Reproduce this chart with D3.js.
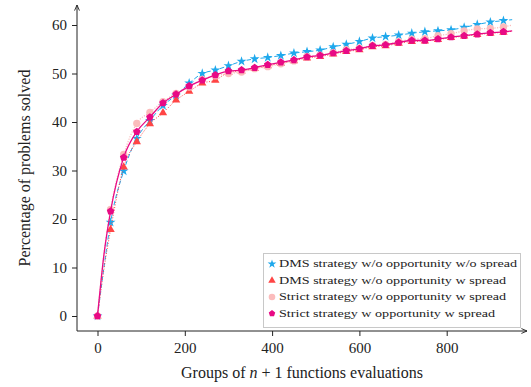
<!DOCTYPE html>
<html>
<head>
<meta charset="utf-8">
<script src="https://cdn.jsdelivr.net/npm/d3@7"></script>
<style>
  html, body { margin: 0; padding: 0; background: #fff; }
  svg { display: block; }
  text { font-family: "Liberation Serif", "DejaVu Serif", serif; fill: #222; }
</style>
</head>
<body>
<svg id="chart" width="531" height="387"></svg>
<script>
// Groups of n+1 function evaluations at which the solved percentage is sampled
const groups = [0, 15, 30, 60, 90, 120, 150, 180, 210, 240, 270, 300, 330, 360, 390, 420, 450,
  480, 510, 540, 570, 600, 630, 660, 690, 720, 750, 780, 810, 840, 870, 900, 930, 950];

// Percentage of problems solved, one array per strategy
const dmsNoOppNoSpread = [0, 10.2, 19.3, 29.9, 36.6, 40.3, 43.4, 45.5, 48.0, 50.0, 50.7, 51.6, 52.5,
  53.0, 53.3, 53.7, 54.2, 54.5, 54.8, 55.5, 56.0, 56.6, 57.3, 57.6, 57.9, 58.3, 58.6, 58.8,
  59.0, 59.5, 60.1, 60.6, 60.9, 61.1];
const dmsNoOppSpread = [0, 9.8, 17.8, 30.7, 35.9, 39.6, 41.9, 44.5, 46.3, 48.0, 48.6, 50.2, 50.5,
  51.0, 51.6, 52.1, 52.6, 53.2, 53.5, 54.0, 54.5, 54.9, 55.5, 55.7, 56.2, 56.6, 56.7, 57.0,
  57.4, 57.7, 58.0, 58.3, 58.5, 58.7];
const strictNoOppSpread = [0, 13.0, 22.0, 33.3, 39.7, 42.0, 44.2, 45.9, 47.2, 48.8, 49.5, 50.0, 50.3,
  51.0, 51.4, 52.0, 52.6, 53.5, 53.8, 54.3, 54.9, 55.2, 55.8, 56.0, 56.6, 57.1, 57.2, 57.8,
  58.2, 58.8, 59.2, 59.3, 59.6, 60.0];
const strictOppSpread = [0, 12.8, 21.6, 32.7, 38.0, 41.0, 43.9, 45.7, 47.4, 48.6, 49.7, 50.5, 50.7,
  51.2, 51.8, 52.3, 52.8, 53.4, 53.7, 54.2, 54.7, 55.1, 55.7, 55.9, 56.4, 56.8, 56.8, 57.1,
  57.5, 57.8, 58.1, 58.4, 58.6, 58.8];

const xTicks = [0, 200, 400, 600, 800];
const yTicks = [0, 10, 20, 30, 40, 50, 60];
const markEvery = 30;

const seriesNames = [
  "DMS strategy w/o opportunity w/o spread",
  "DMS strategy w/o opportunity w spread",
  "Strict strategy w/o opportunity w spread",
  "Strict strategy w opportunity w spread"
];

const series = [
  { name: seriesNames[0], values: dmsNoOppNoSpread, color: "#1ea8ec", dash: "4.5,2.5", width: 1, marker: "star" },
  { name: seriesNames[1], values: dmsNoOppSpread, color: "#ff4545", dash: "1,1.6", width: 1, marker: "triangle" },
  { name: seriesNames[2], values: strictNoOppSpread, color: "#fbbcbc", dash: "1.2,1.4", width: 1.2, marker: "circle" },
  { name: seriesNames[3], values: strictOppSpread, color: "#e80a85", dash: null, width: 1.3, marker: "pentagon" }
];

const svg = d3.select("#chart");

const x = d3.scaleLinear().domain([0, 800]).range([97.5, 446.7]);
const y = d3.scaleLinear().domain([0, 60]).range([316, 25]);

const axisLeftX = 77, axisBottomY = 331;
const axisRightX = 527, axisTopY = 5;

// marker shapes
function pentagonPath(r) {
  const pts = d3.range(5).map(i => {
    const a = -Math.PI / 2 + i * 2 * Math.PI / 5;
    return [r * Math.cos(a), r * Math.sin(a)];
  });
  return "M" + pts.map(p => p.join(",")).join("L") + "Z";
}
function markerPath(kind) {
  switch (kind) {
    case "star": return d3.symbol(d3.symbolStar, 30)();
    case "triangle": return d3.symbol(d3.symbolTriangle, 30)();
    case "circle": return d3.symbol(d3.symbolCircle, 42)();
    case "pentagon": return pentagonPath(4);
  }
}

// axes
const gx = svg.append("g").attr("transform", `translate(0,${axisBottomY})`);
gx.call(d3.axisBottom(x).tickValues(xTicks).tickSize(5).tickPadding(6).tickFormat(d3.format("d")));
gx.select(".domain").remove();
gx.selectAll("line").attr("stroke", "#222");
gx.selectAll("text").attr("font-size", 15).attr("fill", "#222")
  .attr("font-family", "Liberation Serif, serif");

const gy = svg.append("g").attr("transform", `translate(${axisLeftX},0)`);
gy.call(d3.axisLeft(y).tickValues(yTicks).tickSize(5).tickPadding(5).tickFormat(d3.format("d")));
gy.select(".domain").remove();
gy.selectAll("line").attr("stroke", "#222");
gy.selectAll("text").attr("font-size", 15).attr("fill", "#222")
  .attr("font-family", "Liberation Serif, serif");

// axis lines with arrow heads
const defs = svg.append("defs");
defs.append("marker")
  .attr("id", "arrow").attr("viewBox", "0 0 10 10").attr("refX", 9).attr("refY", 5)
  .attr("markerWidth", 7).attr("markerHeight", 7).attr("orient", "auto")
  .append("path").attr("d", "M1,1.5 L9,5 L1,8.5").attr("fill", "none")
  .attr("stroke", "#222").attr("stroke-width", 1.3);

svg.append("line")
  .attr("x1", axisLeftX).attr("y1", axisBottomY).attr("x2", axisRightX).attr("y2", axisBottomY)
  .attr("stroke", "#222").attr("stroke-width", 1).attr("marker-end", "url(#arrow)");
svg.append("line")
  .attr("x1", axisLeftX).attr("y1", axisBottomY).attr("x2", axisLeftX).attr("y2", axisTopY)
  .attr("stroke", "#222").attr("stroke-width", 1).attr("marker-end", "url(#arrow)");

// series lines and markers
const line = d3.line().curve(d3.curveMonotoneX).x((d, i) => x(groups[i])).y(d => y(d));
series.forEach(s => {
  svg.append("path")
    .datum(s.values)
    .attr("d", line)
    .attr("fill", "none")
    .attr("stroke", s.color)
    .attr("stroke-width", s.width)
    .attr("stroke-dasharray", s.dash);
  const pts = s.values.map((v, i) => ({ g: groups[i], v })).filter(d => d.g % markEvery === 0);
  svg.append("g").selectAll("path")
    .data(pts)
    .join("path")
    .attr("d", markerPath(s.marker))
    .attr("transform", d => `translate(${x(d.g)},${y(d.v)})`)
    .attr("fill", s.color);
});

// axis titles
svg.append("text")
  .attr("x", (axisLeftX + axisRightX) / 2).attr("y", 378)
  .attr("text-anchor", "middle").attr("font-size", 16)
  .call(t => {
    t.append("tspan").text("Groups of ");
    t.append("tspan").attr("font-style", "italic").text("n");
    t.append("tspan").text(" + 1 functions evaluations");
  });

svg.append("text")
  .attr("transform", `translate(30,${(axisTopY + axisBottomY) / 2}) rotate(-90)`)
  .attr("text-anchor", "middle").attr("font-size", 16)
  .text("Percentage of problems solved");

// legend
const legend = svg.append("g");
legend.append("rect")
  .attr("x", 263.5).attr("y", 253.5).attr("width", 257).attr("height", 74)
  .attr("fill", "#fff").attr("stroke", "#c8c8c8").attr("stroke-width", 1);

const rows = legend.selectAll("g.row").data(series).join("g")
  .attr("class", "row")
  .attr("transform", (d, i) => `translate(272,${264 + i * 16.5})`);
rows.append("path")
  .attr("d", d => d.marker === "pentagon" ? pentagonPath(3.4) :
    d3.symbol(d.marker === "star" ? d3.symbolStar : d.marker === "triangle" ? d3.symbolTriangle : d3.symbolCircle,
      d.marker === "circle" ? 34 : 24)())
  .attr("fill", d => d.color);
const labels = rows.append("text")
  .attr("x", 7).attr("y", 3.4)
  .attr("font-family", "DejaVu Serif, serif")
  .attr("font-size", 9.6)
  .attr("fill", "#111")
  .text(d => d.name);
// widen the small legend type to the spacing of the original typeface
const natural0 = labels.node().getComputedTextLength();
const k = 238 / natural0;
labels.each(function () {
  const w = this.getComputedTextLength();
  d3.select(this).attr("textLength", w * k).attr("lengthAdjust", "spacingAndGlyphs");
});
</script>
</body>
</html>
